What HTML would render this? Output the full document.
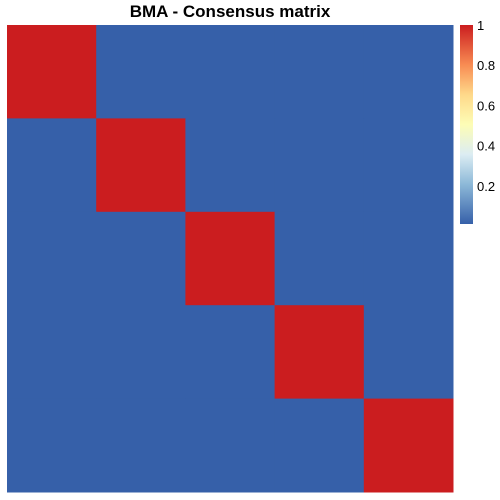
<!DOCTYPE html>
<html><head><meta charset="utf-8"><style>
body{margin:0;background:#fff;}
svg{display:block;font-family:"Liberation Sans",Arial,sans-serif;}
</style></head><body>
<svg id="chart" width="500" height="500">
<text x="230" y="17" text-anchor="middle" font-size="17" font-weight="bold" fill="#000">BMA - Consensus matrix</text>
<defs><linearGradient id="lg" x1="0" y1="1" x2="0" y2="0">
<stop offset="0" stop-color="#3660a9"/><stop offset="0.2" stop-color="#8db9d8"/><stop offset="0.35" stop-color="#dcedf3"/><stop offset="0.5" stop-color="#fdfdb6"/><stop offset="0.65" stop-color="#fed98a"/><stop offset="0.8" stop-color="#f88c53"/><stop offset="1" stop-color="#cb1d1f"/>
</linearGradient></defs>
<g id="cells"></g>
<rect x="460" y="25" width="13" height="199" fill="url(#lg)"/>
<g id="leg"></g>
</svg>
<script>
const rows=["c1","c2","c3","c4","c5"];
const cols=["c1","c2","c3","c4","c5"];
const values=[[1,0,0,0,0],[0,1,0,0,0],[0,0,1,0,0],[0,0,0,1,0],[0,0,0,0,1]];
const legendTicks=[0.2,0.4,0.6,0.8,1];
const legendLabels=["0.2","0.4","0.6","0.8","1"];
const X0=7,X1=453,Y0=25,Y1=492;
const cw=(X1-X0)/cols.length,ch=(Y1-Y0)/rows.length;
function xs(i){return X0+i*cw;}
function ys(j){return Y0+j*ch;}
function col(v){
  const stops=[[0,[54,96,169]],[0.2,[141,185,216]],[0.35,[220,237,243]],[0.5,[253,253,182]],[0.65,[254,217,138]],[0.8,[248,140,83]],[1,[203,29,31]]];
  for(let k=1;k<stops.length;k++){if(v<=stops[k][0]){const a=stops[k-1],b=stops[k];const t=(v-a[0])/(b[0]-a[0]);return "rgb("+a[1].map((c,i)=>Math.round(c+(b[1][i]-c)*t)).join(",")+")";}}
  return "rgb(203,29,31)";
}
const NS="http://www.w3.org/2000/svg";
const g=document.getElementById("cells");
values.forEach((r,j)=>r.forEach((v,i)=>{
  const e=document.createElementNS(NS,"rect");
  e.setAttribute("x",xs(i));e.setAttribute("y",ys(j));
  e.setAttribute("width",cw+0.5);e.setAttribute("height",ch+0.5);
  e.setAttribute("fill",col(v));
  
  
  g.appendChild(e);
}));
const lg=document.getElementById("leg");
const LT=25,LB=226;
function ly(v){return LB-(LB-LT)*v;}
legendTicks.forEach((v,k)=>{
  const t=document.createElementNS(NS,"text");
  t.setAttribute("x",477);t.setAttribute("y",ly(v)+5);
  t.setAttribute("font-size","13");t.setAttribute("fill","#000");
  t.textContent=legendLabels[k];
  
  
  lg.appendChild(t);
});
</script>
</body></html>
